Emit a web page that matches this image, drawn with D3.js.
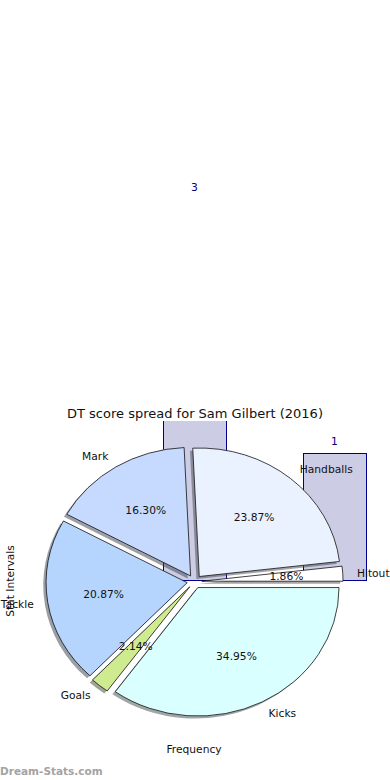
<!DOCTYPE html>
<html>
<head>
<meta charset="utf-8">
<script src="https://cdn.jsdelivr.net/npm/d3@7"></script>
<style>
  body { margin: 0; background: #fff; }
  text { font-family: 'DejaVu Sans', sans-serif; }
</style>
</head>
<body>
<div id="viz"></div>
<script>
// histogram behind the pie (counts per stat interval)
binIds = [0, 1, 2];
binCounts = [0, 3, 1];

// pie data, counter-clockwise from 3 o'clock
statLabels = ['Hitout', 'Handballs', 'Mark', 'Tackle', 'Goals', 'Kicks'];
statShares = [1.86, 23.87, 16.30, 20.87, 2.14, 34.95];

sliceColors = ['#ffffff', '#ebf2ff', '#c6d9ff', '#b5d5ff', '#cfeb8f', '#d9ffff'];

width = 390;
height = 780;

svg = d3.select('#viz').append('svg')
	.attr('width', width)
	.attr('height', height);

// --- histogram ---
xScale = d3.scaleBand()
	.domain(binIds)
	.range([-15.5, 404.5])
	.paddingInner(0.55)
	.paddingOuter(0.275);

yScale = d3.scaleLinear()
	.domain([0, 3])
	.range([580, 199]);

svg.append('clipPath')
	.attr('id', 'plotClip')
	.append('rect')
	.attr('x', 0)
	.attr('y', 421)
	.attr('width', width)
	.attr('height', height - 421);

bins = binIds.map(function(d, i){ return {id: d, count: binCounts[i]}; })
	.filter(function(d){ return d.count > 0; });

svg.append('g')
	.attr('clip-path', 'url(#plotClip)')
	.selectAll('rect')
	.data(bins)
	.enter()
	.append('rect')
	.attr('x', d => xScale(d.id))
	.attr('y', d => yScale(d.count))
	.attr('width', xScale.bandwidth())
	.attr('height', d => yScale(0) - yScale(d.count))
	.attr('fill', '#ccccE4')
	.attr('stroke', '#00008c')
	.attr('stroke-width', 1)
	.attr('shape-rendering', 'crispEdges');

svg.selectAll('text.binLabel')
	.data(bins)
	.enter()
	.append('text')
	.attr('class', 'binLabel')
	.text(d => d.count)
	.attr('x', d => xScale(d.id) + xScale.bandwidth() / 2)
	.attr('y', d => yScale(d.count) - 12)
	.attr('dy', '0.35em')
	.attr('text-anchor', 'middle')
	.attr('font-size', '10.7px')
	.attr('fill', '#000080');

// --- pie (elliptical, exploded, with shadows) ---
cx = 194.5;
cy = 581.6;
rx = 141.2;
ry = 128.5;
explode = 0.052;

pie = d3.pie()
	.sort(null)
	.value(d => d.share)
	.startAngle(Math.PI / 2)
	.endAngle(Math.PI / 2 - 2 * Math.PI);

arc = d3.arc().innerRadius(0).outerRadius(1);

slices = pie(statLabels.map(function(l, i){
	return {label: l, share: statShares[i], color: sliceColors[i]};
}));

// unit direction of slice bisector, screen coords
dir = function(d) {
	var a = (d.startAngle + d.endAngle) / 2;
	return [Math.sin(a), -Math.cos(a)];
};

pieG = svg.append('g');

slices.forEach(function(d){
	var u = dir(d);
	var ox = cx + explode * rx * u[0];
	var oy = cy + explode * ry * u[1];
	var c = d3.rgb(d.data.color);

	// shadow
	pieG.append('path')
		.attr('d', arc(d))
		.attr('transform', 'translate(' + (ox - 0.02 * rx) + ',' + (oy + 0.02 * ry) + ') scale(' + rx + ',' + ry + ')')
		.attr('fill', d3.rgb(c.r * 0.3, c.g * 0.3, c.b * 0.3))
		.attr('fill-opacity', 0.5)
		.attr('stroke', 'none');

	// wedge
	pieG.append('path')
		.attr('d', arc(d))
		.attr('transform', 'translate(' + ox + ',' + oy + ') scale(' + rx + ',' + ry + ')')
		.attr('fill', d.data.color)
		.attr('stroke', '#111')
		.attr('stroke-width', 0.8)
		.attr('vector-effect', 'non-scaling-stroke');
});

// category labels
svg.selectAll('text.sliceLabel')
	.data(slices)
	.enter()
	.append('text')
	.attr('class', 'sliceLabel')
	.text(d => d.data.label)
	.attr('x', d => cx + (1.1 + explode) * rx * dir(d)[0])
	.attr('y', d => cy + (1.1 + explode) * ry * dir(d)[1])
	.attr('dy', '0.35em')
	.attr('text-anchor', d => dir(d)[0] > 0 ? 'start' : 'end')
	.attr('font-size', '10.7px')
	.attr('fill', '#111');

// percentages
svg.selectAll('text.pct')
	.data(slices)
	.enter()
	.append('text')
	.attr('class', 'pct')
	.text(d => d.data.share.toFixed(2) + '%')
	.attr('x', d => cx + (0.6 + explode) * rx * dir(d)[0])
	.attr('y', d => cy + (0.6 + explode) * ry * dir(d)[1])
	.attr('dy', '0.35em')
	.attr('text-anchor', 'middle')
	.attr('font-size', '10.7px')
	.attr('fill', '#111');

// title and axis labels
svg.append('text')
	.text('DT score spread for Sam Gilbert (2016)')
	.attr('x', 195)
	.attr('y', 413)
	.attr('dy', '0.35em')
	.attr('text-anchor', 'middle')
	.attr('font-size', '13px')
	.attr('fill', '#111');

svg.append('text')
	.text('Frequency')
	.attr('x', 194)
	.attr('y', 749)
	.attr('dy', '0.35em')
	.attr('text-anchor', 'middle')
	.attr('font-size', '10.7px')
	.attr('fill', '#111');

svg.append('text')
	.text('Stat Intervals')
	.attr('transform', 'translate(10,581) rotate(-90)')
	.attr('dy', '0.35em')
	.attr('text-anchor', 'middle')
	.attr('font-size', '10.7px')
	.attr('fill', '#111');

svg.append('text')
	.text('Dream-Stats.com')
	.attr('x', 0)
	.attr('y', 771)
	.attr('dy', '0.35em')
	.attr('font-size', '10.5px')
	.attr('font-weight', 'bold')
	.attr('fill', '#a3a3a3');
</script>
</body>
</html>
